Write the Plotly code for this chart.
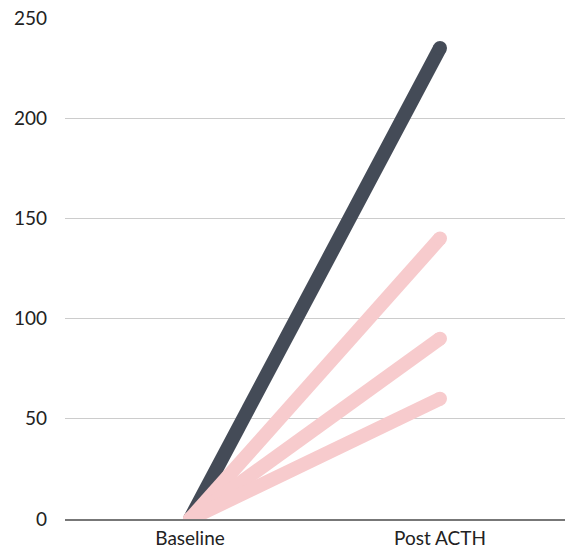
import plotly.graph_objects as go

categories = ["Baseline", "Post ACTH"]
series_dark = [0, 235]
series_pink = [[0, 140], [0, 90], [0, 60]]
dark_color = "#444b57"
pink_color = "#f7cbcd"

fig = go.Figure()
fig.add_trace(go.Scatter(x=categories, y=series_dark, mode="lines+markers",
                         line=dict(color=dark_color, width=14),
                         marker=dict(color=dark_color, size=14), showlegend=False))
for s in series_pink:
    fig.add_trace(go.Scatter(x=categories, y=s, mode="lines+markers",
                             line=dict(color=pink_color, width=14),
                             marker=dict(color=pink_color, size=14), showlegend=False))

fig.update_layout(
    width=571, height=549,
    margin=dict(l=65, r=6, t=18, b=30),
    plot_bgcolor="white", paper_bgcolor="white",
    font=dict(family="Lato", size=19, color="#222"),
    xaxis=dict(type="category", range=[-0.5, 1.5], showgrid=False, automargin=False,
               showline=True, linecolor="#777", linewidth=1.5, ticks="", zeroline=False,
               ticklabelstandoff=1),
    yaxis=dict(range=[0, 250], tickvals=[0, 50, 100, 150, 200, 250], automargin=False,
               gridcolor="#cccccc", gridwidth=1, zeroline=False, showline=False,
               ticks="", ticklabelstandoff=17),
)
fig.write_html("out.html", config={"displayModeBar": False},
               post_script="document.body.style.margin='0';")
